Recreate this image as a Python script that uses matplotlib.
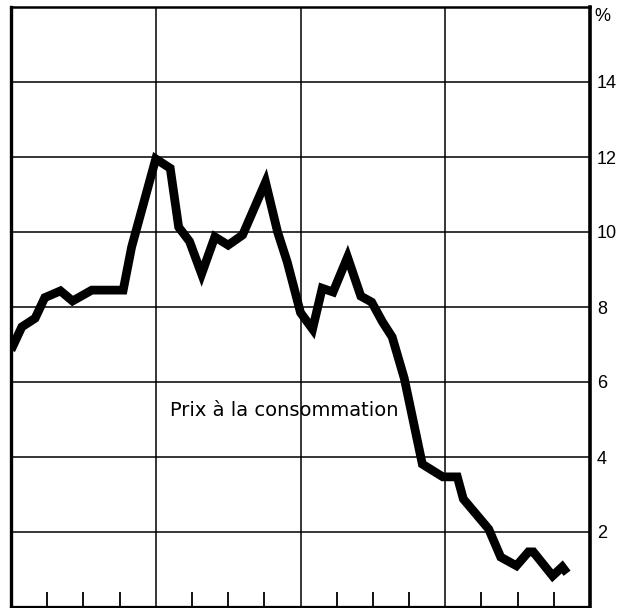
import matplotlib
matplotlib.use("Agg")
import matplotlib.pyplot as plt
from matplotlib.ticker import FixedLocator

# Data (x in months from the start of the chart, y in %)
months = [0, 0.9, 2.0, 2.8, 4.1, 5.1, 6.7, 9.3, 10.0, 12.0, 13.2, 13.9, 14.8,
          15.8, 16.9, 18.0, 19.2, 21.1, 22.1, 22.9, 24.0, 25.0, 25.8, 26.7,
          27.9, 29.0, 29.9, 30.8, 31.6, 32.6, 34.1, 35.8, 37.0, 37.5, 39.6,
          40.6, 41.9, 42.9, 43.3, 44.9, 45.7, 46.1]
inflation = [6.85, 7.47, 7.7, 8.25, 8.43, 8.16, 8.45, 8.45, 9.6, 11.95, 11.7,
             10.13, 9.75, 8.88, 9.87, 9.65, 9.92, 11.33, 10.0, 9.2, 7.85, 7.41,
             8.5, 8.4, 9.33, 8.29, 8.13, 7.6, 7.2, 6.1, 3.81, 3.47, 3.47, 2.88,
             2.08, 1.33, 1.1, 1.47, 1.47, 0.83, 1.07, 0.9]
y_ticks = [2, 4, 6, 8, 10, 12, 14]
y_labels = ["2", "4", "6", "8", "10", "12", "14"]
year_lines = [12, 24, 36]
quarter_ticks = [3, 6, 9, 15, 18, 21, 27, 30, 33, 39, 42, 45]
series_label = "Prix à la consommation"

plt.rcParams['font.family'] = ['Liberation Sans', 'DejaVu Sans']

fig = plt.figure(figsize=(6.24, 6.08), dpi=100)
ax = fig.add_axes([11/624, 1/608, (590-11)/624, 600/608])
ax.set_xlim(0, 48)
ax.set_ylim(0, 16)

# grid
for yv in y_ticks:
    ax.axhline(yv, color='black', lw=1.1, zorder=1)
for xv in year_lines:
    ax.axvline(xv, color='black', lw=1.1, zorder=1)

# quarter ticks at bottom (inward)
ax.xaxis.set_major_locator(FixedLocator(quarter_ticks))
ax.tick_params(axis='x', direction='in', length=11, width=1.3,
               labelbottom=False, bottom=True, color='black')

ax.yaxis.tick_right()
ax.set_yticks(y_ticks)
ax.set_yticklabels(y_labels)
ax.tick_params(axis='y', which='both', length=0, pad=5, labelsize=13,
               left=False, right=False)

ax.plot(months, inflation, color='black', lw=6.3, solid_joinstyle='miter',
        solid_capstyle='butt', zorder=3)

ax.text(13.2, 5.23, series_label, ha='left', va='center', fontsize=14,
        family=['DejaVu Sans'])
ax.annotate("%", xy=(1.0, 1.0), xycoords='axes fraction',
            xytext=(3, -1), textcoords='offset points',
            ha='left', va='top', fontsize=13)

for side, w in [('left', 2.4), ('right', 2.6), ('top', 1.8), ('bottom', 1.6)]:
    ax.spines[side].set_linewidth(w)
    ax.spines[side].set_color('black')

fig.savefig("out.png", dpi=100)
